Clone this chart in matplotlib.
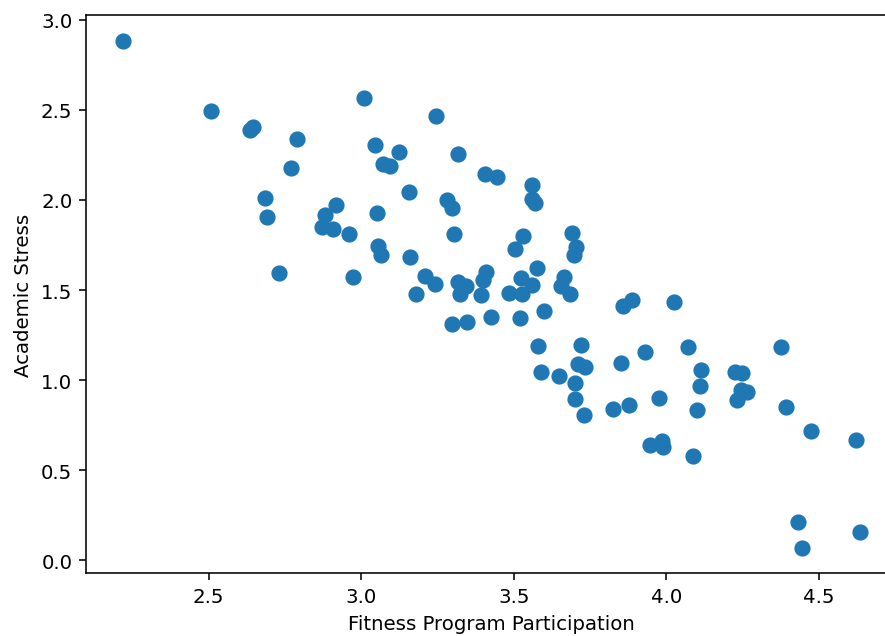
import matplotlib
matplotlib.use("Agg")
import matplotlib.pyplot as plt
import numpy as np

# fitness program participation vs academic stress
participation = [
    2.220, 2.508, 2.636, 2.646, 2.789, 2.770, 2.685, 2.692, 2.730, 3.009,
    3.045, 3.125, 3.070, 3.094, 3.245, 3.318, 3.406, 3.446, 3.156, 3.280,
    3.299, 2.916, 2.881, 2.872, 2.909, 2.961, 3.051, 3.054, 3.064, 3.161,
    3.304, 2.973, 3.209, 3.241, 3.181, 3.317, 3.343, 3.325, 3.297, 3.346,
    3.561, 3.559, 3.570, 3.531, 3.503, 3.692, 3.703, 3.698, 3.408, 3.398,
    3.576, 3.524, 3.561, 3.664, 3.654, 3.684, 3.484, 3.526, 3.393, 3.859,
    3.886, 4.026, 3.424, 3.521, 3.600, 3.579, 3.720, 3.589, 3.649, 3.710,
    3.732, 3.699, 3.699, 3.731, 3.824, 3.878, 3.852, 3.930, 3.974, 3.947,
    3.986, 3.988, 4.069, 4.113, 4.109, 4.099, 4.087, 4.225, 4.247, 4.244,
    4.264, 4.232, 4.376, 4.391, 4.473, 4.620, 4.432, 4.445, 4.633,
]
stress = [
    2.884, 2.496, 2.389, 2.404, 2.339, 2.178, 2.010, 1.908, 1.597, 2.568,
    2.306, 2.267, 2.200, 2.191, 2.465, 2.256, 2.145, 2.126, 2.045, 2.001,
    1.955, 1.973, 1.919, 1.847, 1.840, 1.810, 1.927, 1.744, 1.692, 1.684,
    1.810, 1.573, 1.579, 1.531, 1.478, 1.547, 1.521, 1.479, 1.313, 1.322,
    2.085, 2.006, 1.984, 1.801, 1.725, 1.819, 1.738, 1.697, 1.600, 1.553,
    1.622, 1.566, 1.529, 1.572, 1.525, 1.476, 1.483, 1.476, 1.472, 1.411,
    1.442, 1.433, 1.350, 1.344, 1.383, 1.191, 1.196, 1.043, 1.023, 1.087,
    1.071, 0.986, 0.895, 0.804, 0.841, 0.860, 1.093, 1.156, 0.901, 0.638,
    0.662, 0.626, 1.184, 1.057, 0.967, 0.836, 0.577, 1.043, 1.037, 0.945,
    0.934, 0.887, 1.181, 0.851, 0.715, 0.668, 0.213, 0.070, 0.155,
]

fig = plt.figure(figsize=(885 / 142, 637 / 142), dpi=142)
# axes runs a bit past the right edge, like the cropped original
ax = fig.add_axes([0.0974, 0.0989, 0.9157, 0.8755])

ax.scatter(participation, stress, s=52, color="#1f77b4")
ax.set_xlabel("Fitness Program Participation")
ax.set_ylabel("Academic Stress")

fig.savefig("out.png", dpi=142)
